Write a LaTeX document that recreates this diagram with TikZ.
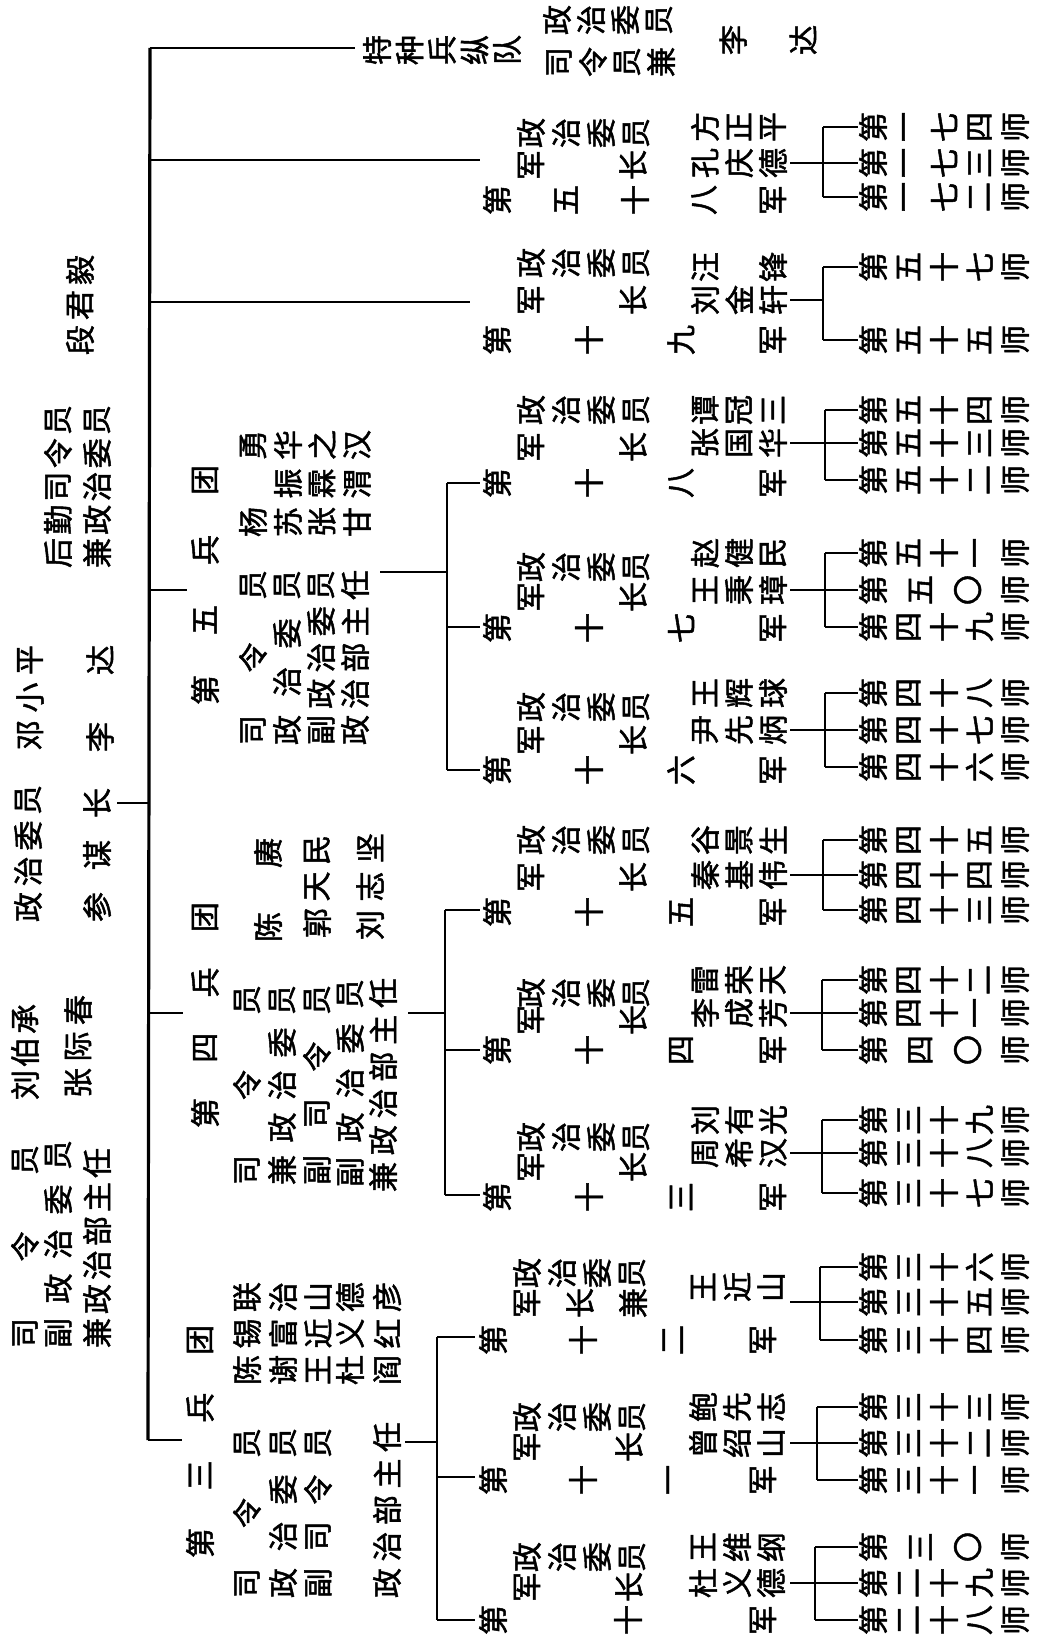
\documentclass[tikz,border=0pt]{standalone}
\usepackage{fontspec}
\newfontfamily\cjk{Noto Sans CJK SC}[FakeBold=1.6]
\tikzset{
  ch/.style={font=\cjk\fontsize{15}{15}\selectfont, rotate=90, inner sep=0pt, anchor=center},
  ln/.style={line width=1.3pt},
  mainln/.style={line width=1.6pt}
}
\newcommand\crow[5]{\foreach \c [count=\i] in {#5} {\node[ch] (#1-\i) at ({#2+(\i-1)*#3},#4) {\c};}}
\newcommand\ccol[5]{\foreach \c [count=\i] in {#5} {\node[ch] (#1-\i) at (#2,{#3-(\i-1)*#4}) {\c};}}
\newcommand\ctitle[3]{\crow{#1a}{531}{35}{#2}{政,治,委,员}\crow{#1b}{531}{102}{#3}{军,长}}
% division: name, bracket x, y, chars, dx
\newcommand\dv[5]{\coordinate (#1s) at (#2,#3); \coordinate (#1e) at (858,#3); \draw[ln] (#1s) -- (#1e); \crow{#1}{873}{#5}{#3}{#4}}
% bracket: name, bracket x, connector y, top y, bottom y
\newcommand\brk[5]{\coordinate (#1c0) at (790,#3); \coordinate (#1c1) at (#2,#3); \coordinate (#1t) at (#2,#4); \coordinate (#1b) at (#2,#5);
  \draw[ln] (#1c0) -- (#1c1); \draw[ln] (#1t) -- (#1b);}
\begin{document}
\begin{tikzpicture}[x=0.5pt,y=-0.5pt]
\fill[white] (0,0) rectangle (1040,1652);
\useasboundingbox (0,0) rectangle (1040,1652);

% ---------- main trunk ----------
\coordinate (mT) at (150,48);
\coordinate (mB) at (148,1440);
\draw[mainln] (mT) -- (mB);
\coordinate (mRoot) at (150,803);
\coordinate (rootR) at (117,803);
\draw[ln] (rootR) -- (mRoot);
\coordinate (eTe) at (355,48);
\draw[ln] (mT) -- (eTe);
\coordinate (m58) at (150,160); \coordinate (e58) at (480,160); \draw[ln] (m58) -- (e58);
\coordinate (m19) at (150,302); \coordinate (e19) at (470,302); \draw[ln] (m19) -- (e19);
\coordinate (m5) at (150,590); \coordinate (e5) at (187,590); \draw[ln] (m5) -- (e5);
\coordinate (m4) at (149,1013); \coordinate (e4) at (183,1013); \draw[ln] (m4) -- (e4);
\coordinate (e3) at (182,1440); \draw[ln] (mB) -- (e3);

% ---------- root block ----------
\ccol{rA}{25}{1333}{86.5}{司,令,员}
\ccol{rB}{58}{1333}{44.5}{副,政,治,委,员}
\ccol{rC}{97}{1333}{34}{兼,政,治,部,主,任}
\ccol{rD}{25}{1085}{33}{刘,伯,承}
\ccol{rE}{78}{1083}{36.5}{张,际,春}
\ccol{rF}{28}{907}{35.7}{政,治,委,员}
\ccol{rG}{97}{907}{52}{参,谋,长}
\ccol{rH}{30}{735}{37.5}{邓,小,平}
\ccol{rI}{100}{737}{77}{李,达}
\ccol{rJ}{58}{553}{33.25}{后,勤,司,令,员}
\ccol{rK}{97}{553}{33.25}{兼,政,治,委,员}
\ccol{rL}{80}{340}{35}{段,君,毅}

% ---------- special troops ----------
\crow{tA}{377}{32.5}{50}{特,种,兵,纵,队}
\crow{tB}{557}{34}{20}{政,治,委,员}
\crow{tC}{559}{34}{62}{司,令,员,兼}
\crow{tD}{733}{70}{40}{李,达}

% ---------- 58th corps ----------
\ctitle{k58}{133}{165}
\crow{k58c}{497}{69}{200}{第,五,十,八,军}
\crow{k58d}{705}{34}{127}{方,正,平}
\crow{k58e}{705}{34}{163}{孔,庆,德}
\brk{b58}{823}{163}{127}{197}
\dv{d174}{823}{127}{第,一,七,四,师}{35.5}
\dv{d173}{823}{163}{第,一,七,三,师}{35.5}
\dv{d172}{823}{197}{第,一,七,二,师}{35.5}

% ---------- 19th corps ----------
\ctitle{k19}{263}{300}
\crow{k19c}{497}{92}{340}{第,十,九,军}
\crow{k19d}{705}{68}{267}{汪,锋}
\crow{k19e}{705}{34}{300}{刘,金,轩}
\brk{b19}{823}{300}{267}{340}
\dv{d57}{823}{267}{第,五,十,七,师}{35.5}
\dv{d55}{823}{340}{第,五,十,五,师}{35.5}

% ---------- 5th army group ----------
\ccol{g5t}{205}{690}{70}{第,五,兵,团}
\ccol{g5a}{253}{730}{72.5}{司,令,员}
\ccol{g5b}{287}{730}{48.3}{政,治,委,员}
\ccol{g5c}{321}{730}{36.25}{副,政,治,委,员}
\ccol{g5d}{355}{730}{36.25}{政,治,部,主,任}
\ccol{g5e}{253}{522}{77}{杨,勇}
\ccol{g5f}{288}{522}{38.5}{苏,振,华}
\ccol{g5g}{322}{522}{38.5}{张,霖,之}
\ccol{g5h}{357}{522}{38.5}{甘,渭,汉}
\coordinate (g5c0) at (380,572); \coordinate (g5c1) at (447,572);
\draw[ln] (g5c0) -- (g5c1);
\coordinate (g5t0) at (447,483); \coordinate (g5b0) at (447,770);
\draw[ln] (g5t0) -- (g5b0);
\coordinate (s18e) at (480,483); \draw[ln] (g5t0) -- (s18e);
\coordinate (s17s) at (447,627); \coordinate (s17e) at (480,627); \draw[ln] (s17s) -- (s17e);
\coordinate (s16e) at (480,770); \draw[ln] (g5b0) -- (s16e);

% 18th corps
\ctitle{k18}{410}{447}
\crow{k18c}{497}{92}{483}{第,十,八,军}
\crow{k18d}{705}{34}{410}{谭,冠,三}
\crow{k18e}{705}{34}{443}{张,国,华}
\brk{b18}{825}{443}{410}{480}
\dv{d54}{825}{410}{第,五,十,四,师}{35.5}
\dv{d53}{825}{443}{第,五,十,三,师}{35.5}
\dv{d52}{825}{480}{第,五,十,二,师}{35.5}

% 17th corps
\ctitle{k17}{567}{597}
\crow{k17c}{497}{92}{628}{第,十,七,军}
\crow{k17d}{705}{34}{553}{赵,健,民}
\crow{k17e}{705}{34}{590}{王,秉,璋}
\brk{b17}{825}{590}{553}{627}
\dv{d51}{825}{553}{第,五,十,一,师}{35.5}
\dv{d50}{825}{590}{第,五,〇,师}{47.3}
\dv{d49}{825}{627}{第,四,十,九,师}{35.5}

% 16th corps
\ctitle{k16}{707}{740}
\crow{k16c}{497}{92}{770}{第,十,六,军}
\crow{k16d}{705}{34}{693}{王,辉,球}
\crow{k16e}{705}{34}{730}{尹,先,炳}
\brk{b16}{825}{730}{693}{767}
\dv{d48}{825}{693}{第,四,十,八,师}{35.5}
\dv{d47}{825}{730}{第,四,十,七,师}{35.5}
\dv{d46}{825}{767}{第,四,十,六,师}{35.5}

% ---------- 4th army group ----------
\ccol{g4t}{205}{1113}{65.3}{第,四,兵,团}
\ccol{g4a}{247}{1170}{85}{司,令,员}
\ccol{g4b}{282}{1170}{42.5}{兼,政,治,委,员}
\ccol{g4c}{317}{1170}{56.7}{副,司,令,员}
\ccol{g4d}{350}{1172}{44.5}{副,政,治,委,员}
\ccol{g4e}{383}{1177}{36.8}{兼,政,治,部,主,任}
\ccol{g4f}{268}{927}{74}{陈,赓}
\ccol{g4g}{317}{923}{36.5}{郭,天,民}
\ccol{g4h}{370}{925}{38.5}{刘,志,坚}
\coordinate (g4c0) at (408,1013); \coordinate (g4c1) at (445,1013);
\draw[ln] (g4c0) -- (g4c1);
\coordinate (g4t0) at (445,910); \coordinate (g4b0) at (445,1195);
\draw[ln] (g4t0) -- (g4b0);
\coordinate (s15e) at (480,910); \draw[ln] (g4t0) -- (s15e);
\coordinate (s14s) at (445,1050); \coordinate (s14e) at (480,1050); \draw[ln] (s14s) -- (s14e);
\coordinate (s13e) at (480,1195); \draw[ln] (g4b0) -- (s13e);

% 15th corps
\ctitle{k15}{840}{877}
\crow{k15c}{497}{92}{912}{第,十,五,军}
\crow{k15d}{705}{34}{840}{谷,景,生}
\crow{k15e}{705}{34}{875}{秦,基,伟}
\brk{b15}{823}{875}{840}{910}
\dv{d45}{823}{840}{第,四,十,五,师}{35.5}
\dv{d44}{823}{875}{第,四,十,四,师}{35.5}
\dv{d43}{823}{910}{第,四,十,三,师}{35.5}

% 14th corps
\ctitle{k14}{993}{1020}
\crow{k14c}{497}{92}{1050}{第,十,四,军}
\crow{k14d}{705}{34}{980}{雷,荣,天}
\crow{k14e}{705}{34}{1013}{李,成,芳}
\brk{b14}{822}{1013}{980}{1050}
\dv{d42}{822}{980}{第,四,十,二,师}{35.5}
\dv{d41}{822}{1013}{第,四,十,一,师}{35.5}
\dv{d40}{822}{1050}{第,四,〇,师}{47.3}

% 13th corps
\ctitle{k13}{1137}{1167}
\crow{k13c}{497}{92}{1197}{第,十,三,军}
\crow{k13d}{705}{34}{1120}{刘,有,光}
\crow{k13e}{705}{34}{1153}{周,希,汉}
\brk{b13}{822}{1153}{1120}{1193}
\dv{d39}{822}{1120}{第,三,十,九,师}{35.5}
\dv{d38}{822}{1153}{第,三,十,八,师}{35.5}
\dv{d37}{822}{1193}{第,三,十,七,师}{35.5}

% ---------- 3rd army group ----------
\ccol{g3t}{200}{1543}{67.7}{第,三,兵,团}
\ccol{g3a}{247}{1583}{70}{司,令,员}
\ccol{g3b}{283}{1583}{46.7}{政,治,委,员}
\ccol{g3c}{318}{1583}{46.7}{副,司,令,员}
\ccol{g3d}{387}{1583}{36.5}{政,治,部,主,任}
\ccol{g3e}{247}{1370}{36.5}{陈,锡,联}
\ccol{g3f}{283}{1370}{36.5}{谢,富,治}
\ccol{g3g}{318}{1370}{36.5}{王,近,山}
\ccol{g3h}{350}{1370}{36.5}{杜,义,德}
\ccol{g3i}{387}{1370}{36.5}{阎,红,彦}
\coordinate (g3c0) at (405,1442); \coordinate (g3c1) at (437,1442);
\draw[ln] (g3c0) -- (g3c1);
\coordinate (g3t0) at (437,1337); \coordinate (g3b0) at (437,1620);
\draw[ln] (g3t0) -- (g3b0);
\coordinate (s12e) at (475,1337); \draw[ln] (g3t0) -- (s12e);
\coordinate (s11s) at (437,1477); \coordinate (s11e) at (475,1477); \draw[ln] (s11s) -- (s11e);
\coordinate (s10e) at (475,1620); \draw[ln] (g3b0) -- (s10e);

% 12th corps
\crow{k12a}{527}{35}{1273}{政,治,委,员}
\crow{k12b}{527}{53}{1303}{军,长,兼}
\crow{k12c}{493}{90}{1340}{第,十,二,军}
\crow{k12d}{703}{34}{1287}{王,近,山}
\brk{b12}{820}{1302}{1267}{1340}
\dv{d36}{820}{1267}{第,三,十,六,师}{35.5}
\dv{d35}{820}{1302}{第,三,十,五,师}{35.5}
\dv{d34}{820}{1340}{第,三,十,四,师}{35.5}

% 11th corps
\crow{k11a}{527}{35}{1417}{政,治,委,员}
\crow{k11b}{527}{102}{1447}{军,长}
\crow{k11c}{493}{90}{1480}{第,十,一,军}
\crow{k11d}{703}{34}{1407}{鲍,先,志}
\crow{k11e}{703}{34}{1443}{曾,绍,山}
\brk{b11}{817}{1443}{1407}{1480}
\dv{d33}{817}{1407}{第,三,十,三,师}{35.5}
\dv{d32}{817}{1443}{第,三,十,二,师}{35.5}
\dv{d31}{817}{1480}{第,三,十,一,师}{35.5}

% 10th corps
\crow{k10a}{527}{35}{1557}{政,治,委,员}
\crow{k10b}{527}{102}{1587}{军,长}
\crow{k10c}{493}{135}{1620}{第,十,军}
\crow{k10d}{703}{34}{1547}{王,维,纲}
\crow{k10e}{703}{34}{1583}{杜,义,德}
\brk{b10}{815}{1583}{1547}{1620}
\dv{d30}{815}{1547}{第,三,〇,师}{47.3}
\dv{d29}{815}{1583}{第,二,十,九,师}{35.5}
\dv{d28}{815}{1620}{第,二,十,八,师}{35.5}
\end{tikzpicture}
\end{document}
